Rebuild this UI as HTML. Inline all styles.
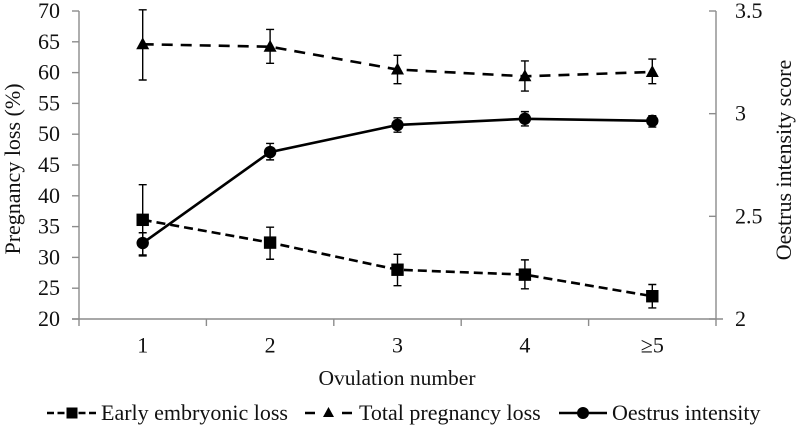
<!DOCTYPE html>
<html>
<head>
<meta charset="utf-8">
<style>
html,body{margin:0;padding:0;background:#fff;}
body{width:797px;height:427px;overflow:hidden;}
svg{display:block;filter:blur(0.3px);}
text{font-family:"Liberation Serif",serif;font-size:22px;fill:#111;}
</style>
</head>
<body>
<svg id="chart" width="797" height="427" viewBox="0 0 797 427" xmlns="http://www.w3.org/2000/svg"></svg>
<script>
const categories = ['1', '2', '3', '4', '≥5'];
const leftTicks = [20, 25, 30, 35, 40, 45, 50, 55, 60, 65, 70];
const rightTicks = [2, 2.5, 3, 3.5];
const earlyLoss = [36.1, 32.4, 28.0, 27.2, 23.7];
const earlyLossUpper = [41.8, 34.9, 30.5, 29.6, 25.6];
const earlyLossLower = [30.4, 29.7, 25.4, 24.9, 21.8];
const totalLoss = [64.6, 64.2, 60.5, 59.4, 60.1];
const totalLossUpper = [70.2, 67.0, 62.8, 61.9, 62.2];
const totalLossLower = [58.8, 61.5, 58.2, 57.0, 58.2];
const oestrus = [2.37, 2.813, 2.945, 2.975, 2.965];
const oestrusUpper = [2.42, 2.855, 2.98, 3.01, 2.99];
const oestrusLower = [2.307, 2.775, 2.91, 2.94, 2.935];

const svg = document.getElementById('chart');
const NS = 'http://www.w3.org/2000/svg';
const plotLeft = 79, plotRight = 716, plotTop = 11, plotBottom = 319;
const AXIS = '#8c8c8c', INK = '#000';

function xPos(i) { return plotLeft + (plotRight - plotLeft) * (i + 0.5) / categories.length; }
function yLeft(v) { return plotBottom - (v - 20) / (70 - 20) * (plotBottom - plotTop); }
function yRight(v) { return plotBottom - (v - 2) / (3.5 - 2) * (plotBottom - plotTop); }

function make(tag, props, parent) {
  const el = document.createElementNS(NS, tag);
  for (const k in props) el.setAttribute(k, props[k]);
  (parent || svg).appendChild(el);
  return el;
}
function label(str, x, y, anchor, parent) {
  const t = make('text', { x: x, y: y, 'text-anchor': anchor }, parent);
  t.textContent = str;
  return t;
}
function marker(kind, x, y, parent, size) {
  let m;
  if (kind === 'square') {
    m = make('rect', { x: x - size, y: y - size, width: size * 2, height: size * 2, fill: INK }, parent);
  } else if (kind === 'triangle') {
    m = make('polygon', { points: (x) + ',' + (y - size - 1) + ' ' + (x + size + 0.5) + ',' + (y + size - 1) + ' ' + (x - size - 0.5) + ',' + (y + size - 1), fill: INK }, parent);
  } else {
    m = make('circle', { cx: x, cy: y, r: size, fill: INK }, parent);
  }
  return m;
}

/* axes */
const axes = make('g', { stroke: AXIS, 'stroke-width': 1.4, fill: 'none' });


const leftAxis = make('line', { x1: plotLeft, x2: plotLeft, y1: plotTop, y2: plotBottom }, axes);


const rightAxis = make('line', { x1: plotRight, x2: plotRight, y1: plotTop, y2: plotBottom }, axes);


const xAxis = make('line', { x1: plotLeft - 7, x2: plotRight + 7, y1: plotBottom, y2: plotBottom }, axes);



leftTicks.forEach(function (v) {
  const y = yLeft(v);
  make('line', { x1: plotLeft - 7, x2: plotLeft, y1: y, y2: y }, axes);
  const t = label(String(v), 60, y + 7, 'end');
  
  
});
rightTicks.forEach(function (v) {
  const y = yRight(v);
  make('line', { x1: plotRight - 7, x2: plotRight, y1: y, y2: y }, axes);
  const t = label(String(v), 735, y + 7, 'start');
  
  
});
for (let i = 0; i <= categories.length; i++) {
  const x = plotLeft + (plotRight - plotLeft) * i / categories.length;
  make('line', { x1: x, x2: x, y1: plotBottom, y2: plotBottom + 7 }, axes);
}
categories.forEach(function (c, i) {
  const t = label(c, xPos(i), 352.5, 'middle');
  
  
});

/* series */
function drawSeries(name, values, upper, lower, yFn, kind, size, dash) {
  const g = make('g', {});
  
  
  const pts = values.map(function (v, i) { return xPos(i) + ',' + yFn(v); }).join(' ');
  const line = make('polyline', { points: pts, fill: 'none', stroke: INK, 'stroke-width': 2.6 }, g);
  if (dash) line.setAttribute('stroke-dasharray', dash);
  
  
  values.forEach(function (v, i) {
    const x = xPos(i), yU = yFn(upper[i]), yL = yFn(lower[i]);
    const err = make('path', {
      d: 'M' + x + ' ' + yU + 'V' + yL + 'M' + (x - 4) + ' ' + yU + 'H' + (x + 4) + 'M' + (x - 4) + ' ' + yL + 'H' + (x + 4),
      stroke: INK, 'stroke-width': 1.4, fill: 'none'
    }, g);
    
    
    const m = marker(kind, x, yFn(v), g, size);
    
    
  });
}
drawSeries('early-embryonic-loss', earlyLoss, earlyLossUpper, earlyLossLower, yLeft, 'square', 6.2, '9 5');
drawSeries('total-pregnancy-loss', totalLoss, totalLossUpper, totalLossLower, yLeft, 'triangle', 6, '11 8');
drawSeries('oestrus-intensity', oestrus, oestrusUpper, oestrusLower, yRight, 'circle', 6.2, null);

/* titles */
const yTitle = label('Pregnancy loss (%)', 0, 0, 'middle');
yTitle.setAttribute('transform', 'translate(20 169) rotate(-90)');


const y2Title = label('Oestrus intensity score', 0, 0, 'middle');
y2Title.setAttribute('transform', 'translate(791 160) rotate(-90)');


const xTitle = label('Ovulation number', 397, 385, 'middle');
xTitle.setAttribute('font-size', '21.5');
xTitle.style.fontSize = '21.5px';



/* legend */
function legendEntry(name, text, x0, x1, textX, kind, size, dash) {
  const g = make('g', {});
  
  
  const l = make('line', { x1: x0, x2: x1, y1: 413, y2: 413, stroke: INK, 'stroke-width': 2.6 }, g);
  if (dash) l.setAttribute('stroke-dasharray', dash);
  marker(kind, (x0 + x1) / 2, 413, g, size);
  label(text, textX, 420, 'start', g);
}
legendEntry('legend-early-embryonic-loss', 'Early embryonic loss', 47, 97, 101, 'square', 5.5, '7 3.5');
legendEntry('legend-total-pregnancy-loss', 'Total pregnancy loss', 305, 352, 359, 'triangle', 5, '10 27');
legendEntry('legend-oestrus-intensity', 'Oestrus intensity', 559, 607, 612, 'circle', 6, null);
</script>
</body>
</html>
